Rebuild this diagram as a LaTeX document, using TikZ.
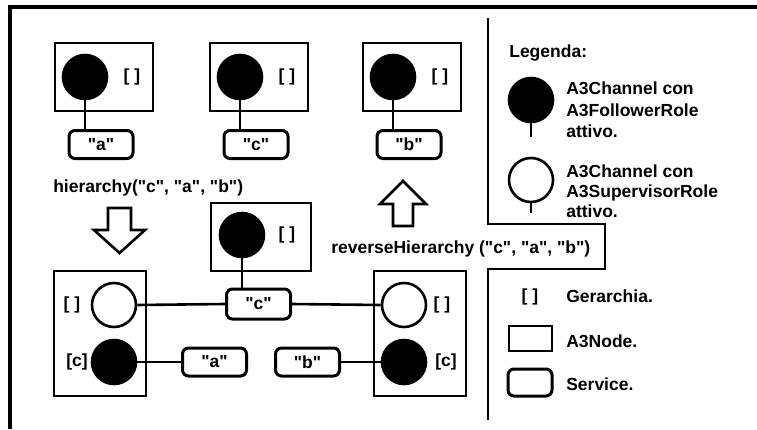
\documentclass[tikz,border=0pt]{standalone}
\usepackage{fontspec}
\setmainfont{Liberation Sans}[Ligatures=TeXOff]
\begin{document}
\begin{tikzpicture}[x=1pt, y=-1pt, line width=2.6pt, font=\fontsize{17.5}{21.5}\selectfont\bfseries]
\tikzset{box/.style={draw, minimum width=98pt, minimum height=68pt, inner sep=0pt},
fol/.style={circle, draw, fill=black, minimum size=44pt, inner sep=0pt},
sup/.style={circle, draw, fill=white, minimum size=44pt, inner sep=0pt},
srv/.style={draw, line width=3pt, rounded corners=6pt, minimum width=64pt, minimum height=28pt, inner sep=0pt},
t/.style={inner sep=0pt},
hollow/.style={draw, line width=2.6pt, line join=miter}};

\useasboundingbox (0,0) rectangle (757,429);
\draw[line width=3.5pt] (10,429) -- (10,7) -- (757,7);

\foreach \n/\x/\s in {1/104/a, 2/259/c, 3/412/b} {
	\node[box] (n\n) at (\x,77) {};
	\node[fol] (f\n) at (\x-19,77) {};
	\node[t] (h\n) at (\x+28,77) {[ ]};
	\node[srv] (s\n) at (\x-3,144.5) {"\s"};
	\draw (f\n.south) -- (f\n.south |- s\n.north);
}

\node[t, anchor=base west] (hier) at (52,192) {hierarchy("c", "a", "b")};
\draw[hollow] (108,208) -- (131,208) -- (131,230) -- (145,230) -- (119.5,253) -- (94,230) -- (108,230) -- cycle;

\node[box, minimum width=100pt] (nm) at (261,237) {};
\node[fol] (fm) at (242,235) {};
\node[t] (hm) at (287,235) {[ ]};

\node[box, minimum width=92pt, minimum height=125pt] (nl) at (100,333.5) {};
\node[sup] (sl) at (114,305) {};
\node[fol] (fl) at (114,362) {};
\node[t] at (72,305) {[ ]};
\node[t] at (77,362) {[c]};

\node[box, minimum width=92pt, minimum height=125pt] (nr) at (420,333.5) {};
\node[sup] (sr) at (404,305) {};
\node[fol] (fr) at (404,362) {};
\node[t] at (442,305) {[ ]};
\node[t] at (446,362) {[c]};

\node[srv, minimum height=30pt] (sc) at (258.5,304) {"c"};
\node[srv] (sa) at (214.5,362) {"a"};
\node[srv] (sb) at (307.5,362) {"b"};

\draw (fm.south) -- (fm.south |- sc.north);
\draw (sl.east) -- (sc.west);
\draw (sc.east) -- (sr.west);
\draw (fl.east) -- (sa.west);
\draw (sb.east) -- (fr.west);

\draw[hollow] (393,226) -- (413,226) -- (413,204) -- (426,204) -- (403,181) -- (380,204) -- (393,204) -- cycle;
\node[t, anchor=base west] (rev) at (330,253) {reverseHierarchy ("c", "a", "b")};

\draw (488,18) -- (488,224) -- (605,224) -- (605,269) -- (488,269) -- (488,420);

\node[t, anchor=base west] (leg) at (508,57) {Legenda:};
\node[fol] (lf) at (531,100) {};
\draw (lf.south) -- ++(0,14);
\node[t, anchor=west, align=left] at (565,110) {A3Channel con\\A3FollowerRole\\attivo.};
\node[sup] (ls) at (531,180) {};
\draw (ls.south) -- ++(0,10);
\node[t, anchor=west, align=left, font=\fontsize{17.5}{20}\selectfont\bfseries] at (565,191.5) {A3Channel con\\A3SupervisorRole\\attivo.};

\node[t] (lh) at (530,297) {[ ]};
\node[t, anchor=base west] at (565,302) {Gerarchia.};
\node[draw, minimum width=43pt, minimum height=25pt, inner sep=0pt] (ln) at (530.5,338.5) {};
\node[t, anchor=base west] at (565,347) {A3Node.};
\node[srv, minimum width=44pt, minimum height=27pt] (lsv) at (530,382.5) {};
\node[t, anchor=base west] at (565,390) {Service.};
\end{tikzpicture}
\end{document}
